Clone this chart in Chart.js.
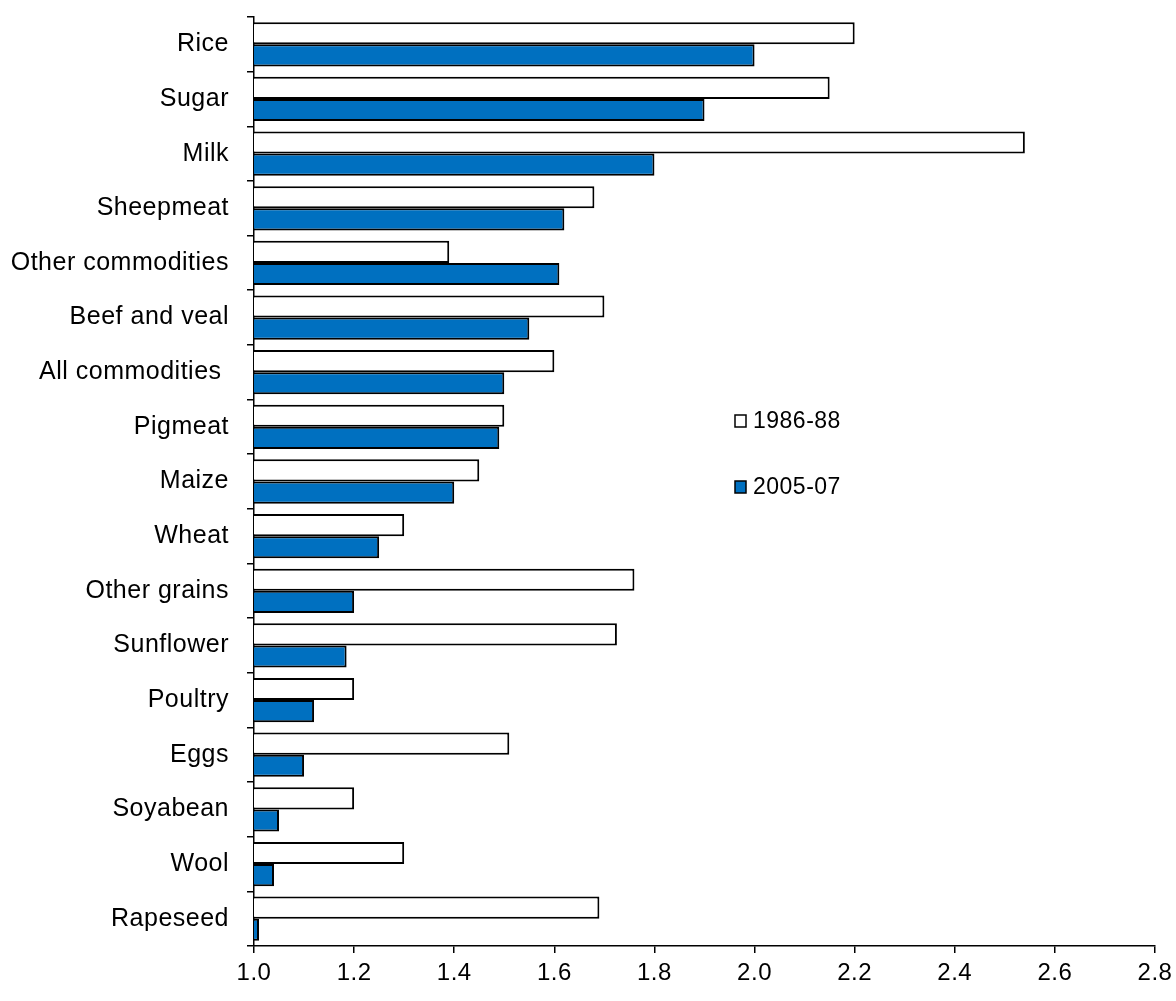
<!DOCTYPE html>
<html>
<head>
<meta charset="utf-8">
<script src="https://cdn.jsdelivr.net/npm/chart.js@4/dist/chart.umd.min.js"></script>
<style>
  html, body { margin: 0; padding: 0; background: #ffffff; }
  #wrap { width: 1176px; height: 1001px; }
</style>
</head>
<body>
<div id="wrap"><canvas id="c" width="1176" height="1001"></canvas></div>
<script>
// Producer support by commodity: ratio of producer to border prices
const categories = [
  'Rice', 'Sugar', 'Milk', 'Sheepmeat', 'Other commodities', 'Beef and veal',
  'All commodities ', 'Pigmeat', 'Maize', 'Wheat', 'Other grains', 'Sunflower',
  'Poultry', 'Eggs', 'Soyabean', 'Wool', 'Rapeseed'
];
const period1 = '1986-88';
const period2 = '2005-07';
const values1986 = [2.20, 2.15, 2.54, 1.68, 1.39, 1.70, 1.60, 1.50, 1.45, 1.30, 1.76, 1.725, 1.20, 1.51, 1.20, 1.30, 1.69];
const values2005 = [2.00, 1.90, 1.80, 1.62, 1.61, 1.55, 1.50, 1.49, 1.40, 1.25, 1.20, 1.185, 1.12, 1.10, 1.05, 1.04, 1.01];
const xTicks = [1.0, 1.2, 1.4, 1.6, 1.8, 2.0, 2.2, 2.4, 2.6, 2.8];

const FONT = 'Liberation Sans, Arial, sans-serif';

// Slightly open letter spacing for all chart text
const textSpacing = {
  id: 'textSpacing',
  beforeDraw(chart) {
    chart.ctx.letterSpacing = '0.5px';
  }
};

// Legend drawn inside the plot area, as a small stacked key
const sideLegend = {
  id: 'sideLegend',
  afterDraw(chart) {
    const { ctx, chartArea } = chart;
    const x = chartArea.left + 481;
    const rows = [chartArea.top + 404, chartArea.top + 470];
    ctx.save();
    ctx.font = '23px ' + FONT;
    ctx.textBaseline = 'middle';
    ctx.textAlign = 'left';
    chart.data.datasets.forEach((ds, i) => {
      const y = rows[i];
      ctx.fillStyle = ds.backgroundColor;
      ctx.strokeStyle = '#000000';
      ctx.lineWidth = 1.5;
      ctx.fillRect(x, y - 6, 11, 12);
      ctx.strokeRect(x, y - 6, 11, 12);
      ctx.fillStyle = '#000000';
      ctx.fillText(ds.label, x + 18, y + 1);
    });
    ctx.restore();
  }
};

new Chart(document.getElementById('c'), {
  type: 'bar',
  data: {
    labels: categories,
    datasets: [
      {
        label: period1,
        data: values1986,
        backgroundColor: '#ffffff',
        borderColor: '#000000',
        borderWidth: 2,
        borderSkipped: 'start'
      },
      {
        label: period2,
        data: values2005,
        backgroundColor: '#0070C0',
        borderColor: '#000000',
        borderWidth: 2,
        borderSkipped: 'start'
      }
    ]
  },
  options: {
    indexAxis: 'y',
    responsive: false,
    animation: false,
    devicePixelRatio: 1,
    layout: { padding: { top: 17, right: 21, bottom: 0, left: 0 } },
    datasets: {
      bar: { categoryPercentage: 0.81, barPercentage: 1.0 }
    },
    plugins: {
      legend: { display: false },
      tooltip: { enabled: false }
    },
    scales: {
      x: {
        type: 'linear',
        min: 1.0,
        max: 2.8,
        afterBuildTicks(scale) {
          scale.ticks = xTicks.map(v => ({ value: v }));
        },
        afterFit(scale) {
          scale.height = 55;
          scale.paddingLeft = 0;
          scale.paddingRight = 0;
        },
        border: { display: true, color: '#000000', width: 1.5 },
        grid: {
          display: true,
          drawOnChartArea: false,
          drawTicks: true,
          tickLength: 7,
          color: '#000000',
          lineWidth: 1.5
        },
        ticks: {
          color: '#000000',
          font: { family: FONT, size: 24 },
          padding: 6,
          maxRotation: 0,
          callback: v => Number(v).toFixed(1)
        }
      },
      y: {
        type: 'category',
        offset: true,
        afterFit(scale) {
          scale.width = 254;
          scale.paddingTop = 0;
          scale.paddingBottom = 0;
        },
        border: { display: true, color: '#000000', width: 1.5 },
        grid: {
          display: true,
          offset: true,
          drawOnChartArea: false,
          drawTicks: true,
          tickLength: 7,
          color: '#000000',
          lineWidth: 1.5
        },
        ticks: {
          color: '#000000',
          font: { family: FONT, size: 25 },
          padding: 18,
          autoSkip: false
        }
      }
    }
  },
  plugins: [textSpacing, sideLegend]
});
</script>
</body>
</html>
